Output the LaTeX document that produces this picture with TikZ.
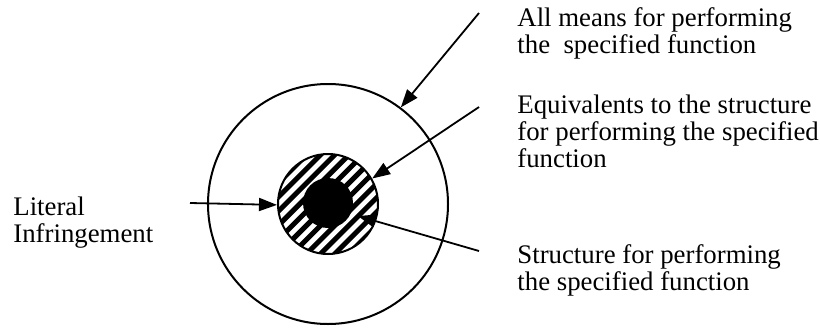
\documentclass[tikz,border=0pt]{standalone}
\usepackage{fontspec}
\setmainfont{Liberation Serif}
\usetikzlibrary{arrows.meta}
\tikzset{
  disc/.style={draw, circle, line width=1pt, inner sep=0pt},
  pointer/.style={-{Triangle[length=9pt, width=6.5pt]}, line width=0.9pt},
  note/.style={anchor=base west, align=left, inner sep=0pt,
    font=\fontsize{13.4}{13.5}\selectfont},
  stripe/.style={line width=2.5pt}
}
\begin{document}
\begin{tikzpicture}[x=0.5pt, y=-0.5pt]
  \useasboundingbox (0,0) rectangle (820,327);
  % circles
  \node[disc, minimum size=120pt] (outer) at (328,204) {};
  \begin{scope}
    \clip (328,204) circle (50);
    \foreach \k in {-8,...,8}
      \draw[stripe] ({328+\k*7.07-70},{204+\k*7.07+70}) -- ({328+\k*7.07+70},{204+\k*7.07-70});
  \end{scope}
  \node[disc, minimum size=50pt] (ring) at (328,204) {};
  \node[circle, fill=black, inner sep=0pt, minimum size=25pt] (core) at (328,203) {};
  % labels (anchored at the baseline of the last line)
  \node[note] (means) at (517,53) {All means for performing\\the\ \ specified function};
  \node[note] (equiv) at (517,167) {Equivalents to the structure\\for performing the specified\\function};
  \node[note] (struct) at (517,290) {Structure for performing\\the specified function};
  \node[note] (literal) at (13,242) {Literal\\Infringement};
  % pointers
  \coordinate (meansfrom) at (479,13);
  \coordinate (equivfrom) at (479,107);
  \coordinate (structfrom) at (479,251);
  \coordinate (literalfrom) at (190,203);
  \coordinate (coretip) at (358,216);
  \draw[pointer] (meansfrom) -- (outer.53);
  \draw[pointer] (equivfrom) -- (ring.30);
  \draw[pointer] (literalfrom) -- (ring.181);
  \draw[pointer] (structfrom) -- (coretip);
\end{tikzpicture}
\end{document}
